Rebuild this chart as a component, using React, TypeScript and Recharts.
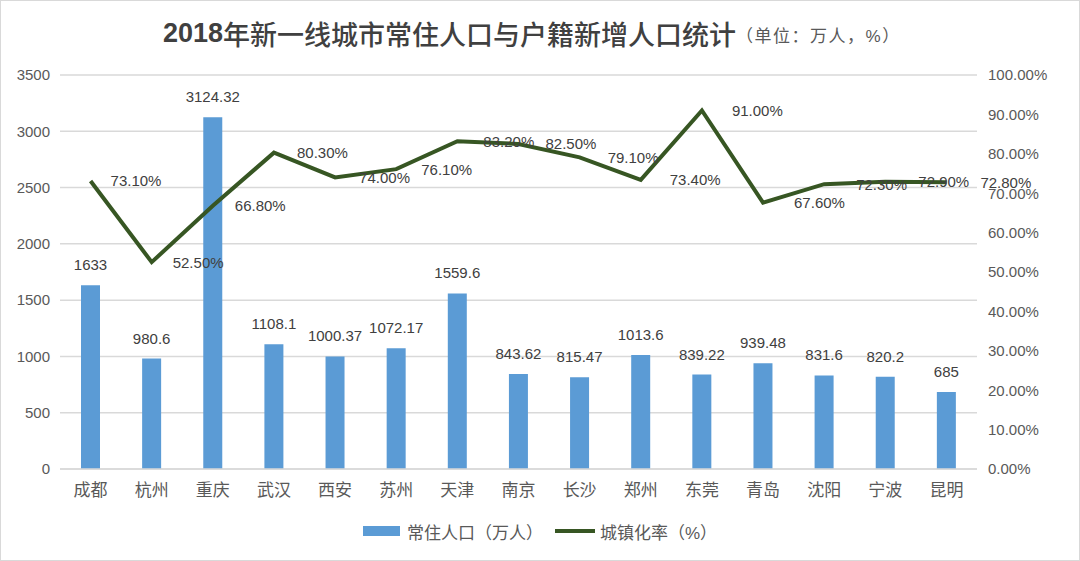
import React from "react";
import {
  ComposedChart,
  Bar,
  Line,
  XAxis,
  YAxis,
  CartesianGrid,
  Legend,
  LabelList,
} from "recharts";

const cities = ["成都", "杭州", "重庆", "武汉", "西安", "苏州", "天津", "南京", "长沙", "郑州", "东莞", "青岛", "沈阳", "宁波", "昆明"];
const population = [1633, 980.6, 3124.32, 1108.1, 1000.37, 1072.17, 1559.6, 843.62, 815.47, 1013.6, 839.22, 939.48, 831.6, 820.2, 685];
const urbanRate = [73.1, 52.5, 66.8, 80.3, 74.0, 76.1, 83.2, 82.5, 79.1, 73.4, 91.0, 67.6, 72.3, 72.9, 72.8];
const leftTicks = [0, 500, 1000, 1500, 2000, 2500, 3000, 3500];
const rightTicks = [0, 10, 20, 30, 40, 50, 60, 70, 80, 90, 100];

const data = cities.map((city, i) => ({
  city,
  population: population[i],
  rate: urbanRate[i],
}));

const FONT = "'Liberation Sans', 'Noto Sans CJK SC', sans-serif";
const BLUE = "#5B9BD5";
const GREEN = "#375623";

const renderRateLabel = (props: any) => {
  const { x, y, value, index } = props;
  return (
    <text
      x={x + 20 + index}
      y={y}
      fill="#404040"
      fontSize={15}
      fontFamily={FONT}
      dominantBaseline="central"
      textAnchor="start"
    >
      {`${Number(value).toFixed(2)}%`}
    </text>
  );
};

const renderLegend = () => (
  <div
    style={{
      height: 30,
      display: "flex",
      alignItems: "center",
      justifyContent: "center",
      fontFamily: FONT,
      fontSize: 17,
      color: "#595959",
    }}
  >
    <span style={{ display: "inline-block", width: 37, height: 10, background: BLUE, marginRight: 7 }} />
    <span style={{ marginRight: 12 }}>常住人口（万人）</span>
    <span style={{ display: "inline-block", width: 40, height: 4, background: GREEN, marginRight: 5 }} />
    <span>城镇化率（%）</span>
  </div>
);

export default function App() {
  return (
    <div
      style={{
        position: "absolute",
        left: 0,
        top: 0,
        width: 1080,
        height: 561,
        background: "#fff",
        boxSizing: "border-box",
        border: "1px solid #d9d9d9",
        overflow: "hidden",
      }}
    >
      <div
        style={{
          position: "absolute",
          top: 12,
          left: 162,
          height: 40,
          display: "flex",
          alignItems: "center",
          fontFamily: FONT,
          color: "#404040",
          whiteSpace: "nowrap",
        }}
      >
        <span style={{ fontSize: 27, fontWeight: "bold" }}>2018</span>
        <span style={{ fontSize: 27, fontWeight: 500 }}>年新一线城市常住人口与户籍新增人口统计</span>
        <span style={{ fontSize: 17, letterSpacing: 1.5, color: "#595959", marginTop: 2 }}>（单位：万人，%）</span>
      </div>
      <div style={{ position: "absolute", left: -1, top: -1 }}>
        <ComposedChart
          width={1080}
          height={561}
          data={data}
          margin={{ top: 75, right: 13, bottom: 22, left: 0 }}
        >
          <CartesianGrid yAxisId="left" vertical={false} stroke="#d9d9d9" strokeWidth={1.5} />
          <XAxis
            dataKey="city"
            height={40}
            axisLine={{ stroke: "#d9d9d9", strokeWidth: 1.5 }}
            tickLine={false}
            tickMargin={9}
            tick={{ fill: "#595959", fontSize: 17, fontFamily: FONT }}
            interval={0}
          />
          <YAxis
            yAxisId="left"
            orientation="left"
            width={60}
            domain={[0, 3500]}
            ticks={leftTicks}
            axisLine={false}
            tickLine={false}
            tickMargin={4}
            tick={{ fill: "#595959", fontSize: 15, fontFamily: FONT }}
          />
          <YAxis
            yAxisId="right"
            orientation="right"
            width={90}
            domain={[0, 100]}
            ticks={rightTicks}
            axisLine={false}
            tickLine={false}
            tickMargin={5}
            tickFormatter={(v: number) => `${v.toFixed(2)}%`}
            tick={{ fill: "#595959", fontSize: 15, fontFamily: FONT }}
          />
          <Legend content={renderLegend} verticalAlign="bottom" wrapperStyle={{ top: 516, left: 0, width: 1080 }} />
          <Bar
            yAxisId="left"
            dataKey="population"
            name="常住人口（万人）"
            fill={BLUE}
            barSize={19}
            isAnimationActive={false}
          >
            <LabelList
              dataKey="population"
              position="top"
              offset={15}
              fill="#404040"
              fontSize={15}
              fontFamily={FONT}
            />
          </Bar>
          <Line
            yAxisId="right"
            dataKey="rate"
            name="城镇化率（%）"
            type="linear"
            stroke={GREEN}
            strokeWidth={4}
            dot={false}
            label={renderRateLabel}
            isAnimationActive={false}
          />
        </ComposedChart>
      </div>
    </div>
  );
}
